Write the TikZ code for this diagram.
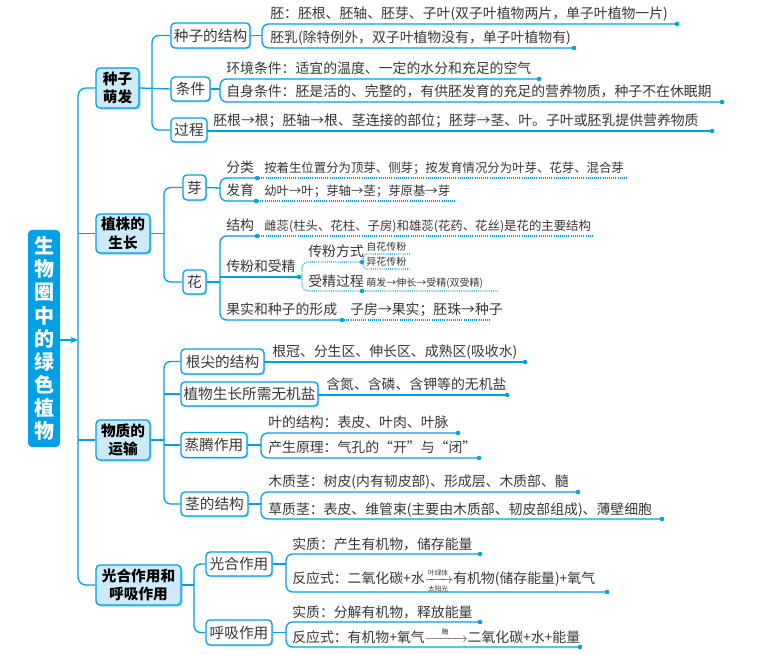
\documentclass[tikz,border=0pt]{standalone}
\usepackage{amsmath}
\usepackage{fontspec}
\setmainfont{Noto Sans CJK SC}
\usetikzlibrary{shadows,arrows.meta}
\definecolor{cb}{RGB}{0,160,230}
\definecolor{lb}{RGB}{205,234,250}
\definecolor{tg}{RGB}{55,55,55}
\tikzset{
  ln/.style={draw=cb,line width=1pt},
  dl/.style={draw=cb,line width=0.9pt,dash pattern=on 0.7pt off 0.9pt},
  lone/.style={draw=cb,line width=1pt,fill=lb,rounded corners=3pt,align=center,inner sep=0pt,
    font=\fontsize{11}{14}\selectfont\bfseries,text=black,
    drop shadow={shadow xshift=1.2pt,shadow yshift=-1.2pt,fill=cb!45,opacity=1}},
  ltwo/.style={draw=cb,line width=1pt,fill=white,rounded corners=3pt,inner sep=0pt,
    font=\fontsize{11}{13}\selectfont,text=tg,
    drop shadow={shadow xshift=1pt,shadow yshift=-1pt,fill=cb!35,opacity=1}},
  tx/.style={anchor=base west,inner sep=0pt,font=\fontsize{10.4}{12}\selectfont,text=tg},
  txs/.style={anchor=base west,inner sep=0pt,font=\fontsize{9.3}{11}\selectfont,text=tg},
  txt/.style={anchor=base west,inner sep=0pt,font=\fontsize{7.5}{9}\selectfont,text=tg},
}
\newcommand{\dt}[1]{\fill[cb] #1 circle (1.7pt);}
\newcommand{\lab}[1]{\text{\fontsize{5}{5}\selectfont #1}}
\begin{document}
\begin{tikzpicture}[x=0.75pt,y=-0.75pt]
\useasboundingbox[fill=white] (0,0) rectangle (760,655);
% root
\node[fill=cb,rounded corners=3pt,minimum width=24pt,minimum height=162.75pt,align=center,text=white,
  font=\fontsize{15}{17.3}\selectfont\bfseries] (root) at (44,338.5) {生\\物\\圈\\中\\的\\绿\\色\\植\\物};
% level 1
\node[lone,minimum width=32.25pt,minimum height=30pt] (zz) at (117.5,88) {种子\\萌发};
\node[lone,minimum width=40.5pt,minimum height=29.25pt] (zs) at (123,233.5) {植株的\\生长};
\node[lone,minimum width=40.5pt,minimum height=30pt] (wz) at (123,440) {物质的\\运输};
\node[lone,minimum width=63.75pt,minimum height=30pt] (gh) at (138.5,585) {光合作用和\\呼吸作用};
\coordinate (sp) at (78,340);
\draw[ln,-{Stealth[length=6pt,width=5pt]}] (root.east|-sp) -- (sp);
\draw[ln,rounded corners=6pt] (zz.west) -| (78,300) |- (gh.west);
\draw[ln] (78,233.5) -- (zs.west);
\draw[ln] (78,440) -- (wz.west);
% ===== 种子萌发
\node[ltwo,minimum width=59.25pt,minimum height=18.75pt] (jg) at (210.5,35.5) {种子的结构};
\node[ltwo,minimum width=29.25pt,minimum height=18pt] (tj) at (190.5,89) {条件};
\node[ltwo,minimum width=27pt,minimum height=18pt] (gc) at (189,130) {过程};
\draw[ln,rounded corners=5pt] (jg.west) -| (152,88) |- (gc.west);
\draw[ln] (zz.east) -- (tj.west);
\draw[ln,rounded corners=5pt] (677,24) -- (262,24) -- (262,48) -- (574,48);
\draw[ln] (jg.east) -- (262,35.5);
\dt{(677,24)}\dt{(574,48)}
\node[tx] (a1) at (270,19) {胚：胚根、胚轴、胚芽、子叶(双子叶植物两片，单子叶植物一片)};
\node[tx] (a2) at (270,43) {胚乳(除特例外，双子叶植物没有，单子叶植物有)};
\draw[ln,rounded corners=5pt] (539,79) -- (220,79) -- (220,102) -- (722,102);
\draw[ln] (tj.east) -- (220,89);
\dt{(539,79)}\dt{(722,102)}
\node[tx] (b1) at (226,74) {环境条件：适宜的温度、一定的水分和充足的空气};
\node[tx] (b2) at (226,97) {自身条件：胚是活的、完整的，有供胚发育的充足的营养物质，种子不在休眠期};
\draw[ln] (gc.east) |- (712,131);
\dt{(712,131)}
\node[tx] (c1) at (213,126) {胚根→根；胚轴→根、茎连接的部位；胚芽→茎、叶。子叶或胚乳提供营养物质};
% ===== 植株的生长
\node[ltwo,minimum width=17.25pt,minimum height=18.75pt] (ya) at (194.5,187.5) {芽};
\node[ltwo,minimum width=17.25pt,minimum height=18pt] (hu) at (194.5,282) {花};
\draw[ln,rounded corners=5pt] (ya.west) -| (164,233) |- (hu.west);
\draw[ln] (zs.east) -- (164,233.5);
\draw[ln,rounded corners=5pt] (257,178) -- (220,178) -- (220,201) -- (256,201);
\draw[ln] (ya.east) -- (220,188);
\draw[dl] (257,178) -- (627,178); \draw[dl] (256,201) -- (455,201);
\dt{(257,178)}\dt{(256,201)}
\node[tx] (d1) at (226,173) {分类};
\node[txs] (d2) at (264,173) {按着生位置分为顶芽、侧芽；按发育情况分为叶芽、花芽、混合芽};
\node[tx] (d3) at (226,196) {发育};
\node[txs] (d4) at (264,196) {幼叶→叶；芽轴→茎；芽原基→芽};
\draw[ln,rounded corners=5pt] (257,236) -- (220,236) -- (220,320) -- (342,320);
\draw[ln] (hu.east) -- (220,282);
\draw[ln] (220,277) -- (299,277);
\draw[dl] (257,236) -- (593,236);
\draw[dl] (342,320) -- (491,320);
\dt{(257,236)}\dt{(342,320)}\dt{(299,277)}
\draw[dl,rounded corners=4pt] (362,262) -- (302,262) -- (302,291) -- (498,291);
\draw[dl,rounded corners=3pt] (410,254) -- (363,254) -- (363,269) -- (410,269);
\dt{(362,262)}\dt{(362,291)}
\node[tx] (e1) at (226,231) {结构};
\node[txs] (e2) at (264,231) {雌蕊(柱头、花柱、子房)和雄蕊(花药、花丝)是花的主要结构};
\node[tx] (e3) at (226,272) {传粉和受精};
\node[tx] (e4) at (308,257) {传粉方式};
\node[txt] (e5) at (366,251) {自花传粉};
\node[txt] (e6) at (366,266) {异花传粉};
\node[tx] (e7) at (308,287) {受精过程};
\node[txt] (e8) at (366,287) {萌发→伸长→受精(双受精)};
\node[tx] (e9) at (226,315) {果实和种子的形成};
\node[tx] (e10) at (350,315) {子房→果实；胚珠→种子};
% ===== 物质的运输
\node[ltwo,minimum width=62.25pt,minimum height=18.75pt] (gj) at (222.5,361.5) {根尖的结构};
\node[ltwo,minimum width=102.75pt,minimum height=18pt] (wj) at (249.5,394) {植物生长所需无机盐};
\node[ltwo,minimum width=49.5pt,minimum height=18.75pt] (zt) at (214,445) {蒸腾作用};
\node[ltwo,minimum width=50.25pt,minimum height=18pt] (jj) at (214.5,504) {茎的结构};
\draw[ln,rounded corners=5pt] (gj.west) -| (164,440) |- (jj.west);
\draw[ln] (164,394) -- (wj.west);
\draw[ln] (164,445) -- (zt.west);
\draw[ln] (wz.east) -- (164,440);
\draw[ln] (gj.east) |- (525,362); \dt{(525,362)}
\node[tx] (f1) at (272,357) {根冠、分生区、伸长区、成熟区(吸收水)};
\draw[ln] (wj.east) |- (507,395); \dt{(507,395)}
\node[tx] (f2) at (326,390) {含氮、含磷、含钾等的无机盐};
\draw[ln,rounded corners=5pt] (458,433) -- (261,433) -- (261,458) -- (479,458);
\draw[ln] (zt.east) -- (261,445);
\dt{(458,433)}\dt{(479,458)}
\node[tx] (f3) at (268,428) {叶的结构：表皮、叶肉、叶脉};
\node[tx] (f4) at (268,453) {产生原理：气孔的“开”与“闭”};
\draw[ln,rounded corners=5pt] (578,492) -- (261,492) -- (261,519) -- (662,519);
\draw[ln] (jj.east) -- (261,504);
\dt{(578,492)}\dt{(662,519)}
\node[tx] (f5) at (268,487) {木质茎：树皮(内有韧皮部)、形成层、木质部、髓};
\node[tx] (f6) at (268,514) {草质茎：表皮、维管束(主要由木质部、韧皮部组成)、薄壁细胞};
% ===== 光合/呼吸
\node[ltwo,minimum width=49.5pt,minimum height=18pt] (gz) at (239,564) {光合作用};
\node[ltwo,minimum width=49.5pt,minimum height=18.75pt] (hx) at (239,632.5) {呼吸作用};
\draw[ln,rounded corners=5pt] (gz.west) -| (194,585) |- (hx.west);
\draw[ln] (gh.east) -- (194,585);
\draw[ln,rounded corners=5pt] (480,554) -- (286,554) -- (286,592) -- (607,592);
\draw[ln] (gz.east) -- (286,564);
\dt{(480,554)}\dt{(607,592)}
\node[tx] (g1) at (292,549) {实质：产生有机物，储存能量};
\node[tx] (g2) at (292,583) {反应式：二氧化碳+水$\xrightarrow[\lab{太阳光}]{\lab{叶绿体}}$有机物(储存能量)+氧气};
\draw[ln,rounded corners=5pt] (480,622) -- (286,622) -- (286,647) -- (580,647);
\draw[ln] (hx.east) -- (286,632.5);
\dt{(480,622)}\dt{(580,647)}
\node[tx] (g3) at (292,617) {实质：分解有机物，释放能量};
\node[tx] (g4) at (292,642) {反应式：有机物+氧气$\xrightarrow{\hspace{1em}\lab{酶}\hspace{1em}}$二氧化碳+水+能量};
\end{tikzpicture}
\end{document}
